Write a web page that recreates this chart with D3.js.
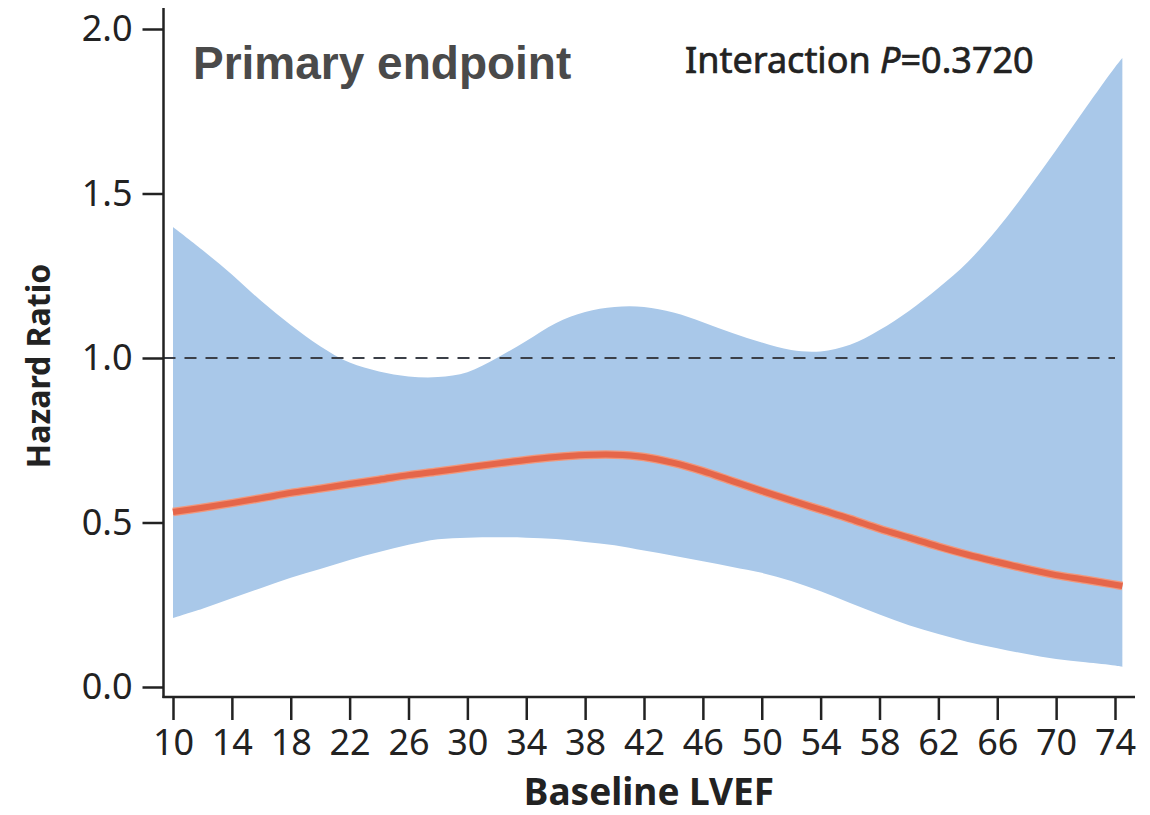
<!DOCTYPE html>
<html>
<head>
<meta charset="utf-8">
<script src="https://cdn.jsdelivr.net/npm/d3@7"></script>
<style>
  html, body { margin: 0; padding: 0; background: #ffffff; }
  svg { display: block; }
</style>
</head>
<body>
<svg id="chart" width="1150" height="815"></svg>
<script>
// Baseline LVEF values at which the spline estimate is evaluated
const lvef = [10, 12, 14, 16, 18, 20, 22, 24, 26, 28, 30, 32, 34, 36, 38, 40, 42, 44,
              46, 48, 50, 52, 54, 56, 58, 60, 62, 64, 66, 68, 70, 72, 74, 74.5];

// Hazard ratio point estimate
const hazardRatio = [0.532, 0.545, 0.559, 0.574, 0.590, 0.603, 0.617, 0.630, 0.644, 0.655,
                     0.667, 0.679, 0.690, 0.699, 0.705, 0.706, 0.699, 0.681, 0.656, 0.626,
                     0.596, 0.567, 0.539, 0.511, 0.481, 0.454, 0.427, 0.402, 0.380, 0.359,
                     0.340, 0.326, 0.311, 0.307];

// 95% confidence interval, upper bound
const ciUpper = [1.398, 1.328, 1.254, 1.173, 1.100, 1.036, 0.986, 0.959, 0.944, 0.942,
                 0.957, 1.000, 1.052, 1.106, 1.140, 1.155, 1.155, 1.138, 1.109, 1.076,
                 1.047, 1.024, 1.020, 1.040, 1.085, 1.143, 1.213, 1.292, 1.392, 1.508,
                 1.632, 1.760, 1.884, 1.912];

// 95% confidence interval, lower bound
const ciLower = [0.210, 0.238, 0.270, 0.301, 0.332, 0.359, 0.386, 0.410, 0.432, 0.449,
                 0.454, 0.455, 0.454, 0.450, 0.441, 0.431, 0.415, 0.399, 0.382, 0.365,
                 0.347, 0.322, 0.291, 0.255, 0.220, 0.188, 0.161, 0.137, 0.118, 0.100,
                 0.085, 0.075, 0.065, 0.061];

const xTicks = d3.range(10, 75, 4);
const yTicks = [0, 0.5, 1.0, 1.5, 2.0];
const referenceHR = 1.0;

const titleText = "Primary endpoint";
const pValueText = "0.3720";

const rows = lvef.map((x, i) => ({ x, hr: hazardRatio[i], lo: ciLower[i], hi: ciUpper[i] }));

const svg = d3.select("#chart");

const x = d3.scaleLinear().domain([10, 74]).range([173, 1115]);
const y = d3.scaleLinear().domain([0, 2]).range([687, 29]);

const axisX = 163.5;   // vertical axis position
const axisY = 697;     // horizontal axis position
const tickFont = "'Noto Sans', 'Open Sans', sans-serif";
const smooth = d3.curveCatmullRom.alpha(0.5);

// Confidence band
svg.append("path")
  .datum(rows)
  .attr("fill", "#a9c8e9")
  .attr("d", d3.area()
    .x(d => x(d.x))
    .y0(d => y(d.lo))
    .y1(d => y(d.hi))
    .curve(smooth));

// Reference line at HR = 1
svg.append("line")
  .attr("x1", axisX).attr("x2", x(74))
  .attr("y1", y(referenceHR)).attr("y2", y(referenceHR))
  .attr("stroke", "#3b3f47")
  .attr("stroke-width", 2)
  .attr("stroke-dasharray", "12,9");

// Hazard ratio curve
const hrLine = d3.line()
  .x(d => x(d.x))
  .y(d => y(d.hr))
  .curve(smooth);

svg.append("path")
  .datum(rows)
  .attr("fill", "none")
  .attr("stroke", "#f1977b")
  .attr("stroke-width", 8.5)
  .attr("d", hrLine);

svg.append("path")
  .datum(rows)
  .attr("fill", "none")
  .attr("stroke", "#e5664a")
  .attr("stroke-width", 6)
  .attr("d", hrLine);

// Axes
const gx = svg.append("g")
  .attr("transform", `translate(0,${axisY})`)
  .call(d3.axisBottom(x).tickValues(xTicks).tickSize(23).tickPadding(9).tickFormat(d3.format("d")));

const gy = svg.append("g")
  .attr("transform", `translate(${axisX},0)`)
  .call(d3.axisLeft(y).tickValues(yTicks).tickSize(21).tickPadding(10).tickFormat(d3.format(".1f")));

[gx, gy].forEach(g => {
  g.select(".domain").remove();
  g.selectAll(".tick line").attr("stroke", "#222").attr("stroke-width", 2.5);
  g.selectAll(".tick text")
    .attr("fill", "#222")
    .style("font-family", tickFont)
    .style("font-size", "36px");
});

svg.append("line")
  .attr("x1", axisX).attr("x2", axisX)
  .attr("y1", 8).attr("y2", axisY + 1)
  .attr("stroke", "#222").attr("stroke-width", 2.5);

svg.append("line")
  .attr("x1", axisX - 1).attr("x2", 1135)
  .attr("y1", axisY).attr("y2", axisY)
  .attr("stroke", "#222").attr("stroke-width", 2.5);

// Axis titles
svg.append("text")
  .attr("x", 649).attr("y", 805)
  .attr("text-anchor", "middle")
  .style("font-family", tickFont)
  .style("font-weight", "bold")
  .style("font-size", "37px")
  .attr("fill", "#222")
  .text("Baseline LVEF");

svg.append("text")
  .attr("transform", "translate(50,366) rotate(-90)")
  .attr("text-anchor", "middle")
  .style("font-family", tickFont)
  .style("font-weight", "bold")
  .style("font-size", "32px")
  .attr("fill", "#222")
  .text("Hazard Ratio");

// Panel title and interaction test
svg.append("text")
  .attr("x", 193).attr("y", 79)
  .style("font-family", "'Liberation Sans', Arial, sans-serif")
  .style("font-weight", "bold")
  .style("font-size", "46px")
  .attr("fill", "#4a4a4a")
  .text(titleText);

const pText = svg.append("text")
  .attr("x", 685).attr("y", 73)
  .style("font-family", tickFont)
  .style("font-size", "36px")
  .attr("fill", "#222")
  .attr("stroke", "#222")
  .attr("stroke-width", 0.7);
pText.append("tspan").text("Interaction ");
pText.append("tspan").style("font-style", "italic").text("P");
pText.append("tspan").text("=" + pValueText);
</script>
</body>
</html>
